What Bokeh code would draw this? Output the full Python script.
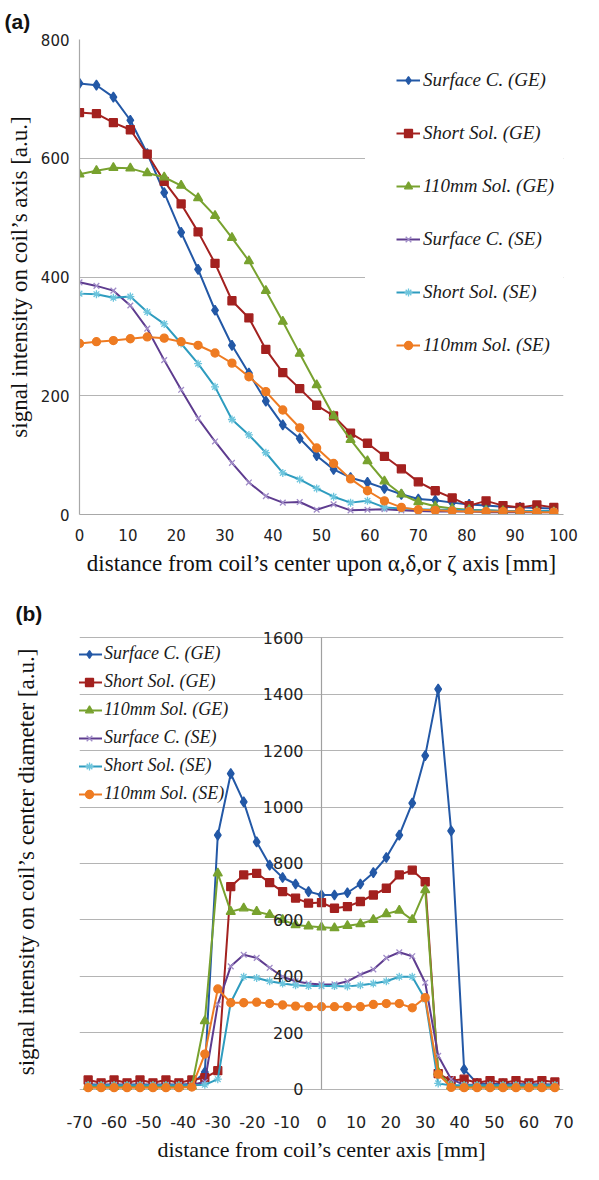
from bokeh.plotting import figure
from bokeh.models import (Range1d, FixedTicker, LinearAxis, Legend, LegendItem,
                          ColumnDataSource, Title)
from bokeh.layouts import column
from bokeh.embed import file_html
from bokeh.resources import INLINE

# ---------------- data ----------------
names = ["Surface C. (GE)", "Short Sol. (GE)", "110mm Sol. (GE)",
         "Surface C. (SE)", "Short Sol. (SE)", "110mm Sol. (SE)"]

# (a) distance along coil axis [mm]
xa = [0, 3.5, 7, 10.5, 14, 17.5, 21, 24.5, 28, 31.5, 35, 38.5, 42, 45.5, 49,
      52.5, 56, 59.5, 63, 66.5, 70, 73.5, 77, 80.5, 84, 87.5, 91, 94.5, 98]
a_surface_ge = [726, 723, 703, 664, 608, 542, 475, 413, 344, 285, 238, 191, 151, 128, 99,
                76, 62, 54, 44, 34, 26, 24, 20, 17, 15, 13, 12, 11, 10]
a_short_ge = [677, 675, 660, 648, 607, 561, 523, 476, 423, 360, 331, 278, 239, 212, 184,
              166, 137, 120, 98, 77, 55, 40, 28, 15, 23, 15, 12, 16, 12]
a_110_ge = [573, 579, 584, 583, 575, 568, 554, 533, 503, 466, 427, 377, 325, 271, 218,
            166, 126, 90, 56, 34, 21, 14, 10, 8, 7, 6, 5, 5, 4]
a_surface_se = [391, 385, 377, 352, 313, 260, 210, 162, 123, 87, 54, 31, 20, 21, 8,
                17, 7, 8, 9, 7, 6, 5, 5, 5, 4, 4, 4, 4, 4]
a_short_se = [372, 371, 365, 367, 341, 321, 288, 254, 215, 160, 134, 104, 70, 59, 44,
              30, 20, 23, 12, 10, 9, 8, 8, 7, 7, 6, 6, 6, 6]
a_110_se = [288, 291, 293, 296, 299, 297, 291, 285, 272, 255, 232, 207, 176, 146, 112,
            86, 60, 40, 23, 12, 8, 7, 6, 5, 5, 5, 5, 4, 4]

# (b) distance along coil's center diameter [mm]
xb = [-67.5, -63.75, -60, -56.25, -52.5, -48.75, -45, -41.25, -37.5, -33.75, -30,
      -26.25, -22.5, -18.75, -15, -11.25, -7.5, -3.75, 0, 3.75, 7.5, 11.25, 15,
      18.75, 22.5, 26.25, 30, 33.75, 37.5, 41.25, 45, 48.75, 52.5, 56.25, 60,
      63.75, 67.5]
b_surface_ge = [16, 15, 16, 15, 16, 15, 16, 15, 18, 60, 900, 1118, 1018, 876, 794, 750,
                727, 700, 688, 688, 696, 727, 767, 821, 900, 1014, 1182, 1418, 915, 70,
                20, 18, 18, 17, 17, 16, 16]
b_short_ge = [32, 22, 32, 22, 32, 22, 32, 22, 32, 40, 65, 718, 759, 765, 732, 700,
              677, 659, 661, 641, 647, 665, 688, 712, 759, 776, 735, 55, 30, 35,
              22, 30, 22, 30, 22, 30, 25]
b_110_ge = [8, 8, 8, 8, 8, 8, 8, 8, 10, 241, 765, 629, 641, 629, 618, 600,
            582, 577, 574, 571, 579, 585, 600, 621, 633, 600, 706, 60, 10, 8,
            8, 8, 8, 8, 8, 8, 8]
b_surface_se = [15, 15, 15, 15, 15, 15, 15, 15, 15, 25, 300, 435, 476, 465, 430, 398,
                382, 374, 371, 371, 382, 406, 424, 465, 485, 471, 377, 118, 35, 15,
                15, 15, 15, 15, 15, 15, 15]
b_short_se = [13, 13, 13, 13, 13, 13, 13, 13, 13, 15, 35, 307, 398, 394, 382, 374,
              368, 365, 365, 365, 364, 368, 374, 382, 398, 398, 318, 20, 13, 13,
              13, 13, 13, 13, 13, 13, 13]
b_110_se = [5, 5, 5, 5, 5, 5, 5, 5, 7, 124, 355, 306, 306, 308, 303, 298,
            294, 292, 292, 292, 292, 292, 300, 303, 303, 288, 324, 53, 6, 5,
            5, 5, 5, 5, 5, 5, 5]

a_ticks_x = [0, 10, 20, 30, 40, 50, 60, 70, 80, 90, 100]
a_ticks_y = [0, 200, 400, 600, 800]
b_ticks_x = [-70, -60, -50, -40, -30, -20, -10, 0, 10, 20, 30, 40, 50, 60, 70]
b_ticks_y = [0, 200, 400, 600, 800, 1000, 1200, 1400, 1600]

# ---------------- styles ----------------
line_colors = ["#2358A6", "#A3211F", "#78A22F", "#5E3C8F", "#2E9CBF", "#EE7B22"]
mark_colors = ["#2358A6", "#A3211F", "#78A22F", "#A08CC8", "#6DC5DD", "#EE7B22"]
markers = ["diamond", "square", "triangle", "x", "asterisk", "circle"]
msizes = [10, 8, 9, 8, 8, 8]
GRID = "#b4b4b4"
TICK_FONT = "DejaVu Sans"
SERIF = "Liberation Serif"


def add_series(p, xs, series):
    items = []
    for name, ys, lc, mc, mk, ms in zip(names, series, line_colors, mark_colors, markers, msizes):
        src = ColumnDataSource(dict(x=xs, y=ys))
        ln = p.line("x", "y", source=src, line_color=lc, line_width=2)
        sc = p.scatter("x", "y", source=src, marker=mk, size=ms,
                       fill_color=mc, line_color=mc, line_width=1.3)
        items.append(LegendItem(label=name, renderers=[ln, sc]))
    return items


def style_title(p, text, offset, standoff):
    p.title.text = text
    p.title.align = "left"
    p.title.offset = offset
    p.title.text_font = "Liberation Sans"
    p.title.text_font_style = "bold"
    p.title.text_font_size = "21px"
    p.title.text_color = "#111111"
    if "standoff" in Title.properties():
        p.title.standoff = standoff


def style_axis(ax, tick_size, label_size):
    ax.major_tick_line_color = None
    ax.minor_tick_line_color = None
    ax.major_tick_out = 0
    ax.major_label_text_font = TICK_FONT
    ax.major_label_text_font_size = tick_size
    ax.major_label_text_color = "#222222"
    ax.axis_label_text_font = SERIF
    ax.axis_label_text_font_style = "normal"
    ax.axis_label_text_font_size = label_size
    ax.axis_label_text_color = "#111111"


# ---------------- (a) ----------------
p1 = figure(width=583, height=582, output_backend="svg", toolbar_location=None,
            x_range=Range1d(0, 100), y_range=Range1d(0, 800),
            min_border_left=79, min_border_right=15, min_border_top=36,
            min_border_bottom=68)
p1.outline_line_color = None
p1.background_fill_color = "white"
style_title(p1, "(a)", -75, 14)

p1.xaxis.ticker = FixedTicker(ticks=a_ticks_x)
p1.yaxis.ticker = FixedTicker(ticks=a_ticks_y)
for ax in (p1.xaxis[0], p1.yaxis[0]):
    style_axis(ax, "15px", "23px")
    ax.axis_line_color = "#a8a8a8"
    ax.axis_line_width = 1.2
p1.xaxis.major_label_standoff = 14
p1.yaxis.major_label_standoff = 10
p1.xaxis.axis_label = "distance from coil\u2019s center upon \u03b1,\u03b4,or \u03b6 axis [mm]"
p1.yaxis.axis_label = "signal intensity on coil\u2019s axis [a.u.]"
p1.xaxis.axis_label_standoff = 7
p1.yaxis.axis_label_standoff = 6
p1.xgrid.visible = False
p1.ygrid.grid_line_color = GRID
p1.ygrid.grid_line_width = 1.2

items1 = add_series(p1, xa, [a_surface_ge, a_short_ge, a_110_ge,
                             a_surface_se, a_short_se, a_110_se])
leg1 = Legend(items=items1, location=(286, 126), padding=30, margin=0,
              spacing=29, label_height=24, glyph_height=20, glyph_width=24,
              label_width=116, label_standoff=3, background_fill_color="white",
              background_fill_alpha=1.0, border_line_color="white",
              border_line_width=1,
              label_text_font=SERIF, label_text_font_style="italic",
              label_text_font_size="19px", label_text_color="#1a1a1a")
p1.add_layout(leg1)

# ---------------- (b) ----------------
p2 = figure(width=583, height=582, output_backend="svg", toolbar_location=None,
            x_range=Range1d(-70, 70), y_range=Range1d(-30, 1640),
            min_border_left=68, min_border_right=20, min_border_top=44,
            min_border_bottom=67)
p2.outline_line_color = None
p2.background_fill_color = "white"
style_title(p2, "(b)", -64, 4)

p2.xaxis.ticker = FixedTicker(ticks=b_ticks_x)
p2.xaxis.major_label_overrides = {t: str(t) for t in b_ticks_x}
p2.yaxis.ticker = FixedTicker(ticks=b_ticks_y)
p2.yaxis.fixed_location = 0
p2.yaxis.bounds = (b_ticks_y[0], b_ticks_y[-1])
for ax in (p2.xaxis[0], p2.yaxis[0]):
    style_axis(ax, "16px", "22px")
p2.xaxis.axis_line_color = None
p2.yaxis.axis_line_color = "#a0a0a0"
p2.yaxis.axis_line_width = 1.2
p2.xaxis.major_label_standoff = 18
p2.yaxis.major_label_standoff = 18
p2.xaxis.axis_label = "distance from coil\u2019s center axis [mm]"
p2.xaxis.axis_label_standoff = 6

ylab2 = LinearAxis(axis_label="signal intensity on coil\u2019s center diameter [a.u.]",
                   ticker=FixedTicker(ticks=[]), axis_line_color=None,
                   major_tick_line_color=None, minor_tick_line_color=None,
                   major_tick_out=0, axis_label_standoff=41,
                   axis_label_text_font=SERIF, axis_label_text_font_style="normal",
                   axis_label_text_font_size="23px", axis_label_text_color="#111111")
p2.add_layout(ylab2, "left")

p2.xgrid.visible = False
p2.ygrid.grid_line_color = GRID
p2.ygrid.grid_line_width = 1.2

items2 = add_series(p2, xb, [b_surface_ge, b_short_ge, b_110_ge,
                             b_surface_se, b_short_se, b_110_se])
leg2 = Legend(items=items2, location=(-3, 293), padding=0, margin=0,
              spacing=7, label_height=21, glyph_height=20, glyph_width=26,
              label_standoff=2, background_fill_alpha=0.0, border_line_color=None,
              label_text_font=SERIF, label_text_font_style="italic",
              label_text_font_size="18px", label_text_color="#1a1a1a")
p2.add_layout(leg2)

layout = column(p1, p2, spacing=0)
open("out.html", "w").write(file_html(layout, INLINE))
